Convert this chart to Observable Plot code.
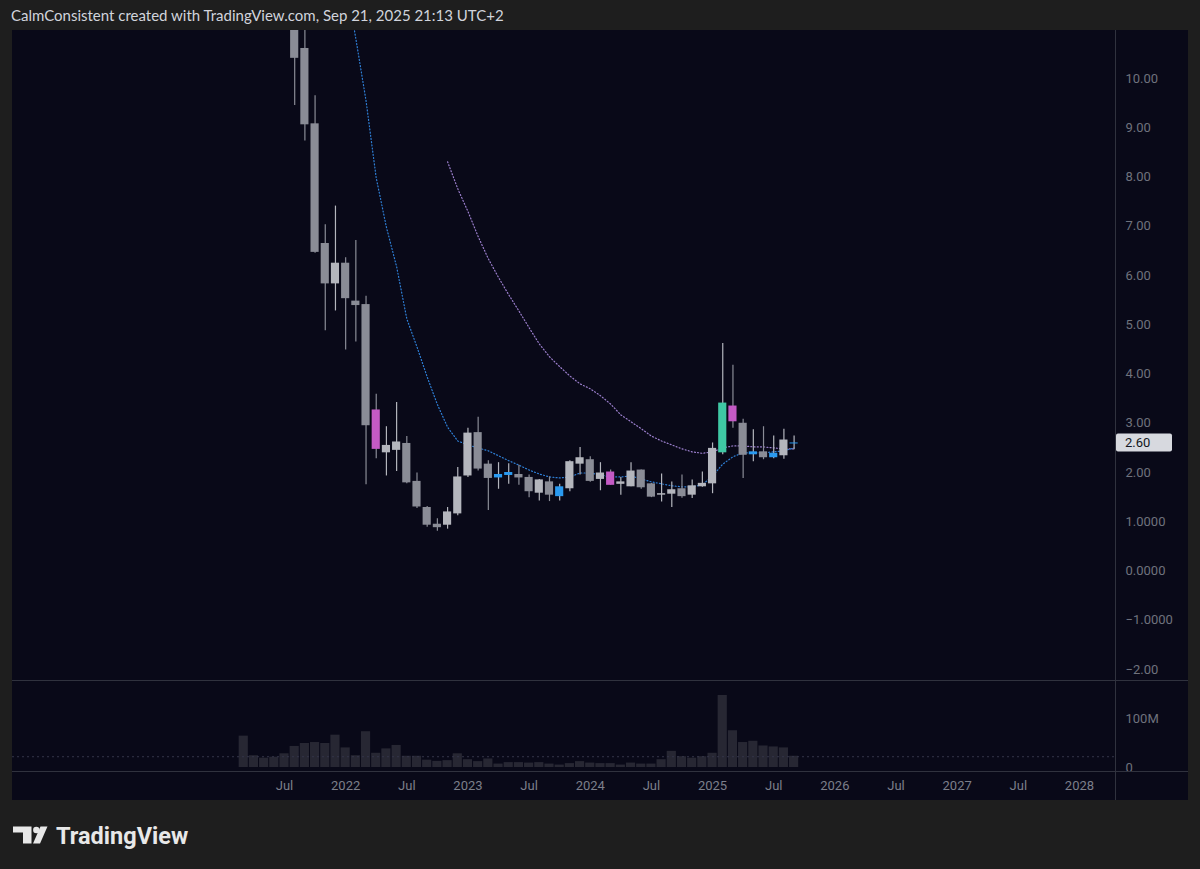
<!DOCTYPE html>
<html>
<head>
<meta charset="utf-8">
<script src="https://cdn.jsdelivr.net/npm/d3@7"></script>
<script src="https://cdn.jsdelivr.net/npm/@observablehq/plot@0.6"></script>
<style>
  html, body { margin: 0; padding: 0; }
  body { width: 1200px; height: 869px; background: #1e1e1e; position: relative; overflow: hidden; font-family: Roboto, sans-serif; }
  #header { position: absolute; left: 11px; top: 6px; font: 15px Lato, sans-serif; color: #d1d4dc; white-space: nowrap; }
  #chart { position: absolute; left: 12px; top: 30px; width: 1176px; height: 770px; background: #090918; overflow: hidden; }
  #chart svg { display: block; }
  #main { position: absolute; left: 0; top: 0; }
  #vol { position: absolute; left: 0; top: 650px; }
  .sep { position: absolute; background: #30323e; }
  #logo { position: absolute; left: 0; top: 815px; }
</style>
</head>
<body>
<div id="header">CalmConsistent created with TradingView.com, Sep 21, 2025 21:13 UTC+2</div>
<div id="chart">
  <div id="main"></div>
  <div id="vol"></div>
  <div class="sep" style="left:0;top:650px;width:1176px;height:1px"></div>
  <div class="sep" style="left:0;top:741px;width:1176px;height:1px"></div>
  <div class="sep" style="left:1103px;top:0;width:1px;height:770px"></div>
</div>
<svg id="logo" width="220" height="40" viewBox="0 815 220 40">
  <path d="M13,826.5 H31.5 V843.5 H23 V832.5 H13 Z" fill="#e8e8e8"/>
  <circle cx="36.3" cy="830" r="3.2" fill="#e8e8e8"/>
  <path d="M40.5,826.5 H47.5 L40,843.5 H33 Z" fill="#e8e8e8"/>
  <text x="56" y="843.5" font-family="Roboto, sans-serif" font-weight="700" font-size="23.5" fill="#e8e8e8">TradingView</text>
</svg>
<script>
// ---- data (monthly candles) ----
const months = [
  "2021-03","2021-04","2021-05","2021-06","2021-07","2021-08","2021-09","2021-10","2021-11","2021-12",
  "2022-01","2022-02","2022-03","2022-04","2022-05","2022-06","2022-07","2022-08","2022-09","2022-10","2022-11","2022-12",
  "2023-01","2023-02","2023-03","2023-04","2023-05","2023-06","2023-07","2023-08","2023-09","2023-10","2023-11","2023-12",
  "2024-01","2024-02","2024-03","2024-04","2024-05","2024-06","2024-07","2024-08","2024-09","2024-10","2024-11","2024-12",
  "2025-01","2025-02","2025-03","2025-04","2025-05","2025-06","2025-07","2025-08","2025-09"
];
const open = [
  12.5,22,20,18,14,13,10.61,9.08,6.65,5.83,
  6.25,5.48,5.41,3.27,2.40,2.45,2.59,1.82,1.29,0.95,0.93,1.16,
  1.93,2.81,2.17,1.89,1.94,1.96,1.90,1.58,1.81,1.51,1.67,2.17,
  2.26,1.86,2.01,1.76,1.71,2.05,1.77,1.54,1.56,1.67,1.54,1.71,
  1.77,2.40,3.35,3.00,2.36,2.42,2.30,2.34,2.58
];
const high = [
  28,30,25,20,16,15.5,12.5,9.65,7.03,7.41,
  6.36,6.71,5.58,3.59,2.93,3.42,2.73,1.99,1.31,1.06,1.29,2.10,
  2.90,3.12,2.24,2.20,2.18,2.15,1.95,1.86,1.91,1.76,2.24,2.51,
  2.32,2.20,2.05,1.90,2.20,2.05,1.78,1.97,1.81,1.95,1.85,2.01,
  2.60,4.62,4.18,3.08,2.87,2.93,2.74,2.88,2.74
];
const low = [
  11.8,15,12,12.5,11.5,9.45,8.73,6.45,4.88,5.28,
  4.49,4.65,1.75,2.28,1.93,2.02,1.77,1.27,0.89,0.81,0.85,1.12,
  1.90,2.03,1.23,1.66,1.76,1.74,1.49,1.42,1.41,1.42,1.61,1.95,
  1.80,1.63,1.74,1.54,1.71,1.66,1.49,1.40,1.29,1.48,1.47,1.70,
  1.57,2.36,2.90,1.88,2.22,2.26,2.28,2.27,2.46
];
const close = [
  22,20,18,14,13,10.41,9.06,6.47,5.83,6.25,
  5.53,5.39,2.95,2.47,2.55,2.62,1.79,1.30,0.93,0.88,1.20,1.91,
  2.80,2.07,1.88,1.96,2.00,1.89,1.61,1.85,1.54,1.71,2.22,2.30,
  1.82,1.99,1.74,1.81,2.03,1.69,1.50,1.57,1.65,1.51,1.73,1.78,
  2.49,3.41,3.03,2.35,2.42,2.30,2.39,2.66,2.60
];
const candleKind = [
  "up","down","down","down","down","down","down","down","down","up",
  "down","down","down","magenta","up","up","down","down","down","down","up","up",
  "up","down","down","blue","blue","down","down","up","down","blue","up","up",
  "down","up","magenta","up","up","down","down","up","up","down","up","up",
  "up","teal","magenta","down","blue","down","blue","up","blue"
];
// volume in millions
const volume = [
  64,24,19,21,28,43,49,51,49,66,
  40,24,73,29,38,45,23,23,15,12.5,14,28,
  16,12,17.5,7,10,10,9,10,7,5,8,12,
  9,8,8,5,9,7,7,16,33,22,19,22,
  29,147,75,51,53.5,44,42,40,23
];
// moving averages (null = not drawn)
const maFast = [
  null,null,null,null,null,null,null,null,null,null,
  11.99,10.81,9.55,7.98,6.98,6.18,5.12,4.55,3.94,3.38,2.92,2.64,
  2.56,2.50,2.44,2.34,2.24,2.15,2.05,1.97,1.91,1.89,1.91,1.99,
  1.99,1.95,1.91,1.91,1.93,1.87,1.81,1.77,1.73,1.71,1.71,1.75,
  1.93,2.17,2.32,2.40,2.40,2.40,2.42,2.44,2.50
];
const maSlow = [
  null,null,null,null,null,null,null,null,null,null,
  null,null,null,null,null,null,null,null,null,null,8.31,7.76,
  7.30,6.79,6.34,5.96,5.61,5.28,4.94,4.61,4.35,4.15,3.96,3.80,
  3.70,3.56,3.39,3.17,3.03,2.89,2.74,2.64,2.56,2.48,2.42,2.39,
  2.42,2.50,2.54,2.54,2.52,2.52,2.50,2.48,2.48
];
const volumeRef = 22;
// axis ticks
const yTickValues = [10, 9, 8, 7, 6, 5, 4, 3, 2, 1, 0, -1, -2];
const yTickLabels = ["10.00","9.00","8.00","7.00","6.00","5.00","4.00","3.00","2.00","1.0000","0.0000","\u22121.0000","\u22122.00"];
const volTickValues = [0, 100];
const volTickLabels = ["0", "100M"];
const xTickMonths = ["2021-07","2022-01","2022-07","2023-01","2023-07","2024-01","2024-07","2025-01","2025-07","2026-01","2026-07","2027-01","2027-07","2028-01"];
const xTickLabels = ["Jul","2022","Jul","2023","Jul","2024","Jul","2025","Jul","2026","Jul","2027","Jul","2028"];
const kinds = ["up","down","blue","magenta","teal"];
const kindColors = ["#b4b6bd","#8a8c96","#2a9af0","#c45ac5","#3fc8a4"];

// ---- build ----
function monthIndex(s) { const [y, m] = s.split("-").map(Number); return (y - 2021) * 12 + (m - 1); }
const data = months.map((m, k) => ({
  i: monthIndex(m), open: open[k], high: high[k], low: low[k], close: close[k],
  kind: candleKind[k], dir: close[k] >= open[k] ? "up" : "down",
  vol: volume[k], fast: maFast[k], slow: maSlow[k]
}));
const xDomain = [-20.688, 87.535];
const xTicks = xTickMonths.map(monthIndex);
const axisColor = "#6f727d";

const mainPlot = Plot.plot({
  width: 1176, height: 650,
  marginTop: 0, marginBottom: 0, marginLeft: 0, marginRight: 73,
  style: { background: "transparent", color: axisColor, fontFamily: "Roboto, sans-serif", fontSize: "13px" },
  x: { domain: xDomain, axis: null },
  y: { domain: [-2.223, 10.975], axis: null },
  color: { domain: kinds, range: kindColors },
  marks: [
    Plot.axisY({ anchor: "right", label: null, ticks: yTickValues, tickFormat: d => yTickLabels[yTickValues.indexOf(d)], tickSize: 0, tickPadding: 10, fill: axisColor }),
    Plot.line(data, { x: "i", y: "slow", stroke: "#9d80cf", strokeWidth: 1.2, strokeDasharray: "1 2.2", clip: true }),
    Plot.line(data, { x: "i", y: "fast", stroke: "#2f80d8", strokeWidth: 1.2, strokeDasharray: "1 2.2", clip: true }),
    Plot.ruleX(data, { x: "i", y1: "low", y2: "high", stroke: "dir", strokeWidth: 1.2, clip: true }),
    Plot.rect(data, { x1: d => d.i - 0.4, x2: d => d.i + 0.4, y1: "open", y2: "close", fill: "kind", clip: true })
  ]
});
document.getElementById("main").append(mainPlot);

// last price label on the price axis
{
  const last = close[close.length - 1];
  const yPx = mainPlot.scale("y").apply(last);
  const xPx = mainPlot.scale("x").range[1];
  const svg = d3.select(mainPlot);
  svg.append("rect").attr("x", xPx + 1).attr("y", yPx - 9).attr("width", 56).attr("height", 18).attr("rx", 2).attr("fill", "#d7d9df");
  svg.append("text").attr("x", xPx + 10).attr("y", yPx).attr("dy", "0.35em").attr("text-anchor", "start").attr("fill", "#131722")
     .attr("font-family", "Roboto, sans-serif").attr("font-size", 13).text(last.toFixed(2));
}

const volPlot = Plot.plot({
  width: 1176, height: 120,
  marginTop: 0, marginBottom: 29, marginLeft: 0, marginRight: 73,
  style: { background: "transparent", color: axisColor, fontFamily: "Roboto, sans-serif", fontSize: "13px" },
  x: { domain: xDomain, axis: null },
  y: { domain: [-8.16, 177.55], axis: null },
  marks: [
    Plot.rectY(data, { x1: d => d.i - 0.45, x2: d => d.i + 0.45, y: "vol", fill: "#272733" }),
    Plot.ruleY([volumeRef], { stroke: "#34354a", strokeDasharray: "2 3" }),
    Plot.axisY({ anchor: "right", label: null, ticks: volTickValues, tickFormat: d => volTickLabels[volTickValues.indexOf(d)], tickSize: 0, tickPadding: 10, fill: axisColor }),
    Plot.axisX({ label: null, ticks: xTicks, tickFormat: d => xTickLabels[xTicks.indexOf(d)], tickSize: 0, tickPadding: 9, fill: "#7c7f8a" })
  ]
});
document.getElementById("vol").append(volPlot);
</script>
</body>
</html>
